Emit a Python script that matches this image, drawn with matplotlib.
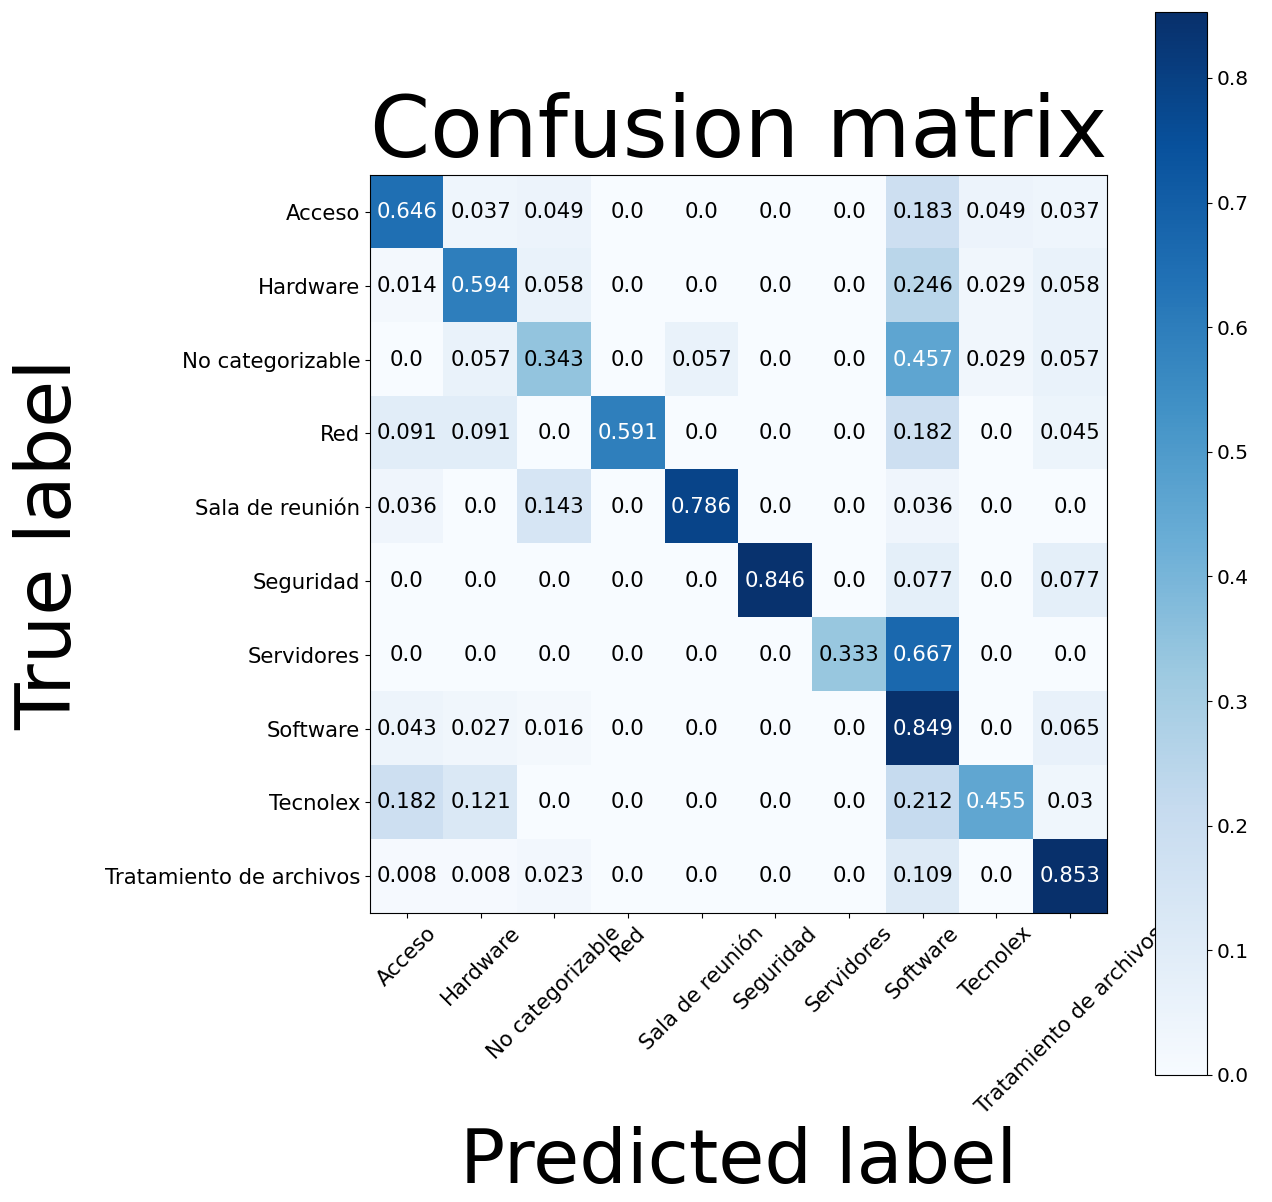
import numpy as np
import matplotlib
matplotlib.use("Agg")
import matplotlib.pyplot as plt

classes = ["Acceso", "Hardware", "No categorizable", "Red", "Sala de reunión",
           "Seguridad", "Servidores", "Software", "Tecnolex",
           "Tratamiento de archivos"]

row_acceso = [0.646, 0.037, 0.049, 0.0, 0.0, 0.0, 0.0, 0.183, 0.049, 0.037]
row_hardware = [0.014, 0.594, 0.058, 0.0, 0.0, 0.0, 0.0, 0.246, 0.029, 0.058]
row_no_cat = [0.0, 0.057, 0.343, 0.0, 0.057, 0.0, 0.0, 0.457, 0.029, 0.057]
row_red = [0.091, 0.091, 0.0, 0.591, 0.0, 0.0, 0.0, 0.182, 0.0, 0.045]
row_sala = [0.036, 0.0, 0.143, 0.0, 0.786, 0.0, 0.0, 0.036, 0.0, 0.0]
row_seguridad = [0.0, 0.0, 0.0, 0.0, 0.0, 0.846, 0.0, 0.077, 0.0, 0.077]
row_servidores = [0.0, 0.0, 0.0, 0.0, 0.0, 0.0, 0.333, 0.667, 0.0, 0.0]
row_software = [0.043, 0.027, 0.016, 0.0, 0.0, 0.0, 0.0, 0.849, 0.0, 0.065]
row_tecnolex = [0.182, 0.121, 0.0, 0.0, 0.0, 0.0, 0.0, 0.212, 0.455, 0.03]
row_tratamiento = [0.008, 0.008, 0.023, 0.0, 0.0, 0.0, 0.0, 0.109, 0.0, 0.853]

cm = np.array([row_acceso, row_hardware, row_no_cat, row_red, row_sala,
               row_seguridad, row_servidores, row_software, row_tecnolex,
               row_tratamiento])

fig = plt.figure(figsize=(12.72, 12.02), dpi=100)
ax = fig.add_axes([0.2909, 0.2404, 0.5794, 0.614])
im = ax.imshow(cm, interpolation="nearest", cmap=plt.cm.Blues, aspect="auto")
ax.set_title("Confusion matrix", fontsize=62, pad=6)

cax = fig.add_axes([0.908, 0.1057, 0.0409, 0.8844])
cb = fig.colorbar(im, cax=cax)
cb.ax.tick_params(labelsize=14.5)

ticks = np.arange(len(classes))
ax.set_xticks(ticks)
ax.set_xticklabels(classes, rotation=45, fontsize=15.3)
ax.set_yticks(ticks)
ax.set_yticklabels(classes, fontsize=15.3)

thresh = cm.max() / 2.0
for i in range(cm.shape[0]):
    for j in range(cm.shape[1]):
        ax.text(j, i, str(cm[i, j]), ha="center", va="center", fontsize=15.3,
                color="white" if cm[i, j] > thresh else "black")

ax.set_ylabel("True label", fontsize=55, labelpad=13)
ax.set_xlabel("Predicted label", fontsize=54, labelpad=6)

fig.savefig("out.png", dpi=100)
